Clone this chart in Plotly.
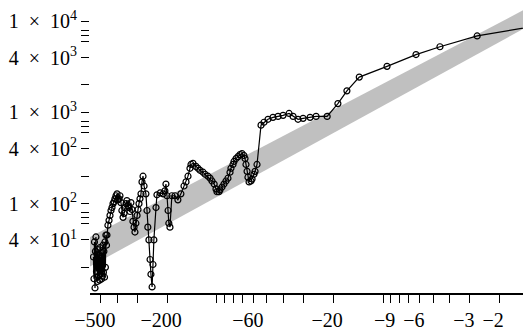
import math
import plotly.graph_objects as go

# time (Myr, negative = past) and value of the traced series
t_myr = [-555, -551, -547, -543, -540, -536, -532, -528, -525, -521, -517, -514, -510, -507,
         -503, -500, -496, -493, -490, -486, -483, -480, -476, -473, -470, -467, -463,
         -460, -454, -447, -441, -435, -429, -423, -417, -412, -406, -400, -395, -389, -384,
         -379, -374, -368, -363, -358, -353, -349, -344, -339, -334, -330, -325, -321, -316,
         -312, -308, -303, -299, -295, -291, -287, -283, -279, -275, -268, -264, -261, -257,
         -253, -250, -246, -243, -240, -233, -230, -220, -211, -206, -203, -200, -197, -195,
         -192, -187, -179, -172, -165, -158, -153.7, -149.5, -145.5, -143.4, -139.5, -134,
         -130.2, -126.6, -121.4, -118, -113.3, -110, -107.2, -104, -101.4, -100, -97.3, -96,
         -93.3, -90.8, -88.3, -85.9, -83.5, -82.4, -80.1, -79, -76.8, -74.7, -72.7, -70.7,
         -68.8, -67.8, -66.9, -65.9, -65.1, -64.1, -62.4, -61.5, -59.9, -59, -57.4,
         -54.3, -52.1, -49.3, -46, -42.9, -40, -36.8, -34.8, -32.5, -30.3, -27.5, -25.3, -21.7,
         -18.7, -16.5, -13.9, -9.46, -6.33, -4.54, -2.71, -1]
values = [26, 15, 38, 11.9, 30, 43.1, 18, 28, 14, 31.3, 16, 27, 14.5, 33,
          17, 26.3, 14.9, 29, 16, 35, 17.7, 30, 15.6, 38, 20, 45.3, 35,
          45.3, 58.0, 65.6, 74.3, 84.1, 90.6, 100, 105, 113, 122, 128, 110, 113, 122,
          102.5, 84.1, 70.7, 78, 90.6, 100, 108, 95.2, 90.6, 82, 102.5, 86.1, 64.0, 55.2,
          48.8, 61, 74.3, 86.1, 100, 113, 128, 173, 200, 156, 128, 84.1, 55.2, 40.0,
          24.4, 16.8, 12.2, 21.5, 40.0, 90.6, 125, 131, 128, 138, 164, 122, 84.1, 61.0,
          55.2, 122, 122, 110, 128, 156, 173, 200, 244, 269, 276, 256,
          244, 232, 221, 210, 200, 190, 177, 164, 145, 135, 135, 141.5,
          152, 164, 177, 190, 221, 244, 269, 290, 312, 328, 345, 353,
          337, 312, 269, 226, 195, 173, 177, 186, 210, 226, 269,
          725, 780, 841, 883, 905, 929, 975, 905, 841, 861, 883, 905, 905,
          1250, 1725, 2440, 3200, 4310, 5250, 6900, 9400]

# grey band (hyperbolic trend corridor)
band_t = [-1000, -1]
band_low = [11.9, 11780]
band_high = [25.7, 18580]

# axis ticks
x_tick_vals = [-500, -400, -300, -200, -100, -90, -80, -70, -60, -50, -40, -30, -20,
               -10, -9, -8, -7, -6, -5, -4, -3, -2]
x_tick_text = ["\u2212500", "", "", "\u2212200", "", "", "", "", "\u221260", "", "", "",
               "\u221220", "", "\u22129", "", "", "\u22126", "", "", "\u22123", "\u22122"]
y_tick_vals = [10000, 8000, 7000, 6000, 4000, 2000, 1000, 800, 700, 600, 400, 200,
               100, 80, 70, 60, 40, 20]
S = "\u2002"
y_tick_text = [f"1{S}\u00d7{S}10<sup>4</sup>", "", "", "", f"4{S}\u00d7{S}10<sup>3</sup>", "",
               f"1{S}\u00d7{S}10<sup>3</sup>", "", "", "", f"4{S}\u00d7{S}10<sup>2</sup>", "",
               f"1{S}\u00d7{S}10<sup>2</sup>", "", "", "", f"4{S}\u00d7{S}10<sup>1</sup>", ""]

box_top = 12190

fig = go.Figure()
fig.add_trace(go.Scatter(x=[-v for v in band_t], y=band_low, mode="lines",
                         line=dict(width=0, color="#c0c0c0"), showlegend=False,
                         hoverinfo="skip"))
fig.add_trace(go.Scatter(x=[-v for v in band_t], y=band_high, mode="lines",
                         line=dict(width=0, color="#c0c0c0"), fill="tonexty",
                         fillcolor="#c0c0c0", showlegend=False, hoverinfo="skip"))
fig.add_trace(go.Scatter(x=[-v for v in t_myr], y=values, mode="lines+markers",
                         line=dict(color="black", width=1.2),
                         marker=dict(symbol="circle-open", size=6, color="black",
                                     line=dict(width=1.2, color="black")),
                         showlegend=False))

ylo, yhi = 1.02, 4.2
fig.update_layout(
    width=523, height=331,
    margin=dict(l=90, r=0, t=3, b=32),
    paper_bgcolor="white", plot_bgcolor="white",
    font=dict(family="Liberation Serif", size=20, color="black"),
    xaxis=dict(type="log", range=[math.log10(582), math.log10(1.435)],
               tickmode="array", tickvals=[-v for v in x_tick_vals], ticktext=x_tick_text,
               ticks="outside", ticklen=8, tickwidth=1, tickcolor="black",
               ticklabelshift=6,
               showline=True, linecolor="black", linewidth=1.5, mirror=False,
               showgrid=False, zeroline=False),
    yaxis=dict(type="log", range=[ylo, yhi],
               tickmode="array", tickvals=y_tick_vals, ticktext=y_tick_text,
               ticks="outside", ticklen=8, tickwidth=1, tickcolor="black",
               showline=False, showgrid=False, zeroline=False),
    shapes=[
        dict(type="line", xref="paper", yref="y", x0=0, x1=1,
             y0=math.log10(box_top), y1=math.log10(box_top),
             line=dict(color="black", width=1.5)),
        dict(type="line", xref="paper", yref="y", x0=0, x1=0,
             y0=ylo, y1=math.log10(box_top),
             line=dict(color="black", width=1.5)),
    ],
)

fig.write_html("out.html", config={"displayModeBar": False},
               post_script="document.body.style.margin='0';")
